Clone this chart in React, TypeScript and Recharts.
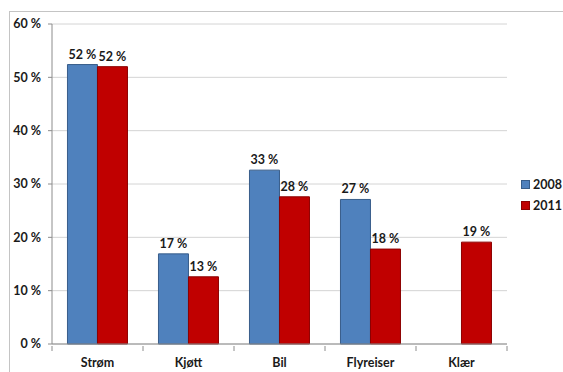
import { Bar, BarChart, CartesianGrid, LabelList, XAxis, YAxis } from "recharts"

const categories = ["Strøm", "Kjøtt", "Bil", "Flyreiser", "Klær"]
const values2008 = [52.4, 16.9, 32.6, 27.1, null]
const values2011 = [52.0, 12.6, 27.6, 17.8, 19.1]
const yTicks = [0, 10, 20, 30, 40, 50, 60]

const data = categories.map((name, i) => ({
  name,
  y2008: values2008[i],
  y2011: values2011[i],
}))

const font = "Lato, 'Open Sans', sans-serif"

function ValueLabel(props: any) {
  const { x, y, width, value } = props
  if (value == null) return null
  return (
    <text x={x + width / 2} y={y - 6} textAnchor="middle" fontSize={12.5} fontWeight={700} fill="#1a1a1a" fontFamily={font}>
      {`${Math.round(Number(value))} %`}
    </text>
  )
}

function CategoryTick(props: any) {
  const { x, y, payload, index } = props
  const half = payload && payload.offset ? payload.offset : 45.5
  return (
    <g>
      <line x1={x - half} x2={x - half} y1={y} y2={y + 5} stroke="#8c8c8c" />
      {index === categories.length - 1 && (
        <line x1={x + half} x2={x + half} y1={y} y2={y + 5} stroke="#8c8c8c" />
      )}
      <text x={x} y={y + 21} textAnchor="middle" fontSize={12.5} fontWeight={700} fill="#1a1a1a" fontFamily={font}>
        {payload.value}
      </text>
    </g>
  )
}

export default function App() {
  return (
    <div style={{ position: "absolute", left: 0, top: 0, width: 563, height: 372, background: "#fff" }}>
      <div style={{ position: "absolute", left: 9, top: 11, right: 0, bottom: 0, borderTop: "1px solid #c4c4c4", borderLeft: "1px solid #c4c4c4" }} />
      <BarChart
        width={563}
        height={372}
        data={data}
        margin={{ top: 24, right: 56, bottom: 0, left: 0 }}
        barGap={0}
        barCategoryGap="17%"
        style={{ position: "absolute", left: 0, top: 0 }}
      >
        <CartesianGrid vertical={false} stroke="#d4d4d4" />
        <XAxis
          dataKey="name"
          height={28}
          axisLine={{ stroke: "#8c8c8c" }}
          tickLine={false}
          tickSize={0}
          interval={0}
          tick={<CategoryTick />}
        />
        <YAxis
          width={52}
          domain={[0, 60]}
          ticks={yTicks}
          interval={0}
          axisLine={{ stroke: "#8c8c8c" }}
          tickLine={{ stroke: "#8c8c8c" }}
          tickSize={4}
          tickMargin={7}
          tickFormatter={(v) => `${v} %`}
          tick={{ fontSize: 12.5, fontWeight: 700, fill: "#1a1a1a", fontFamily: font }}
        />
        <Bar dataKey="y2008" fill="#4f81bd" stroke="#385d8a" isAnimationActive={false}>
          <LabelList dataKey="y2008" content={<ValueLabel />} />
        </Bar>
        <Bar dataKey="y2011" fill="#c00000" stroke="#8c0000" isAnimationActive={false}>
          <LabelList dataKey="y2011" content={<ValueLabel />} />
        </Bar>
      </BarChart>
      <div style={{ position: "absolute", left: 521, top: 174, fontFamily: font, fontSize: 12.5, fontWeight: 700, color: "#1a1a1a", lineHeight: "21px" }}>
        {[
          { label: "2008", color: "#4f81bd", border: "#385d8a" },
          { label: "2011", color: "#c00000", border: "#8c0000" },
        ].map((e) => (
          <div key={e.label} style={{ display: "flex", alignItems: "center" }}>
            <span style={{ display: "inline-block", width: 7, height: 7, background: e.color, border: `1px solid ${e.border}`, marginRight: 3 }} />
            {e.label}
          </div>
        ))}
      </div>
    </div>
  )
}
